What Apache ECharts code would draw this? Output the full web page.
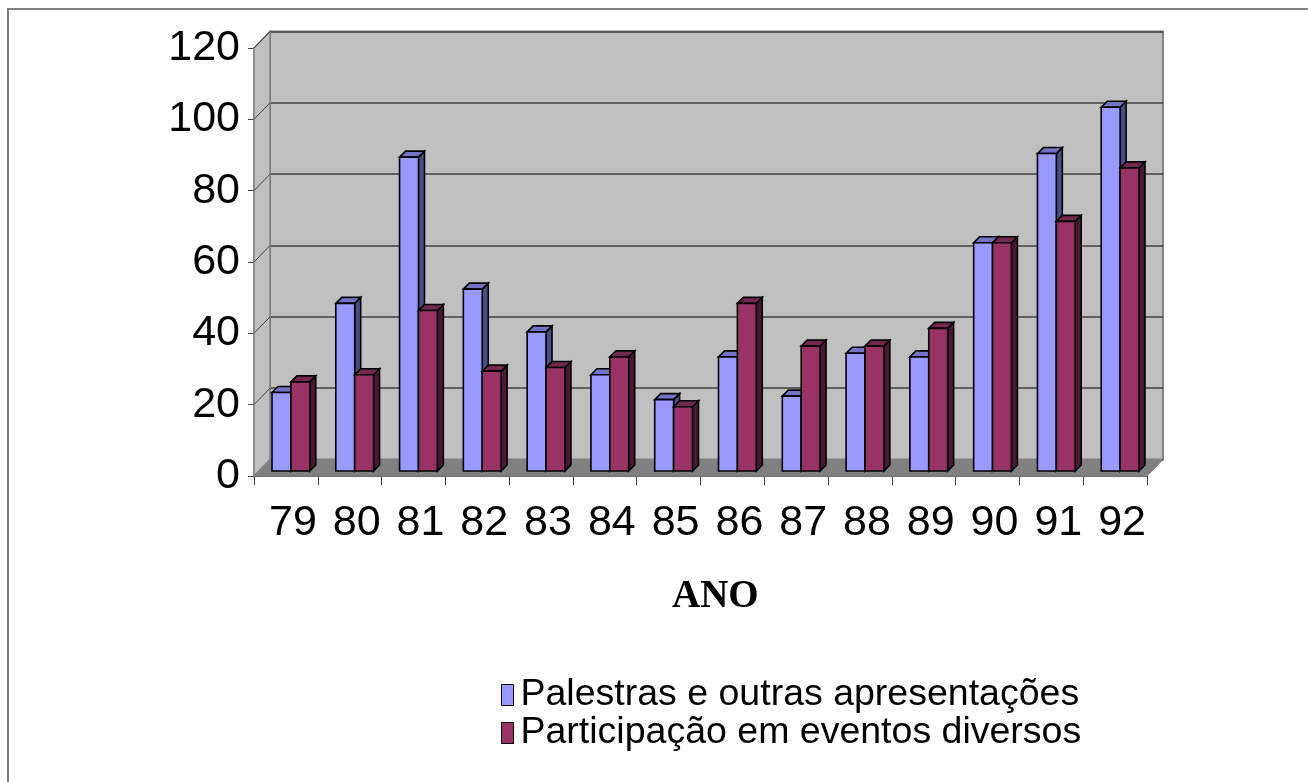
<!DOCTYPE html>
<html>
<head>
<meta charset="utf-8">
<script src="https://cdn.jsdelivr.net/npm/echarts@6/dist/echarts.min.js"></script>
<style>
  html, body { margin: 0; padding: 0; background: #fff; }
  #chart { width: 1308px; height: 782px; }
</style>
</head>
<body>
<div id="chart"></div>
<script>
// ---- data ----
const years = ['79', '80', '81', '82', '83', '84', '85', '86', '87', '88', '89', '90', '91', '92'];
const palestras = [22, 47, 88, 51, 39, 27, 20, 32, 21, 33, 32, 64, 89, 102];
const participacao = [25, 27, 45, 28, 29, 32, 18, 47, 35, 35, 40, 64, 70, 85];
const seriesNames = ['Palestras e outras apresentações', 'Participação em eventos diversos'];
const yMin = 0, yMax = 120, yStep = 20;
const xTitle = 'ANO';

// ---- layout / style constants ----
const FRONT = { left: 254, top: 48, width: 893, height: 428 };
const DEPTH = [16, -16.5];      // wall depth offset
const BAR_SHIFT = [5, -5];      // bar front plane offset from front plane
const BAR_DEPTH = [6, -6];      // bar depth
const BAR_FRAC = 0.296;
const COLORS = [
  { front: '#9999FF', top: '#7373C6', side: '#4D4D85' },
  { front: '#993366', top: '#75284F', side: '#4A1830' }
];
const FONT = "'Liberation Sans', Arial, sans-serif";

const chart = echarts.init(document.getElementById('chart'), null, { renderer: 'canvas' });

function tickValues() {
  const t = [];
  for (let v = yMin; v <= yMax; v += yStep) t.push(v);
  return t;
}

function wallsRender(params, api) {
  const cs = params.coordSys;
  const x = cs.x, y = cs.y, w = cs.width, h = cs.height;
  const dx = DEPTH[0], dy = DEPTH[1];
  const children = [];
  children.push({
    type: 'polygon',
    shape: { points: [[x, y + h], [x, y], [x + dx, y + dy], [x + dx, y + h + dy]] },
    style: { fill: '#C0C0C0', stroke: '#808080', lineWidth: 1.5 }
  });
  tickValues().forEach(function (t) {
    if (t === yMin) return;
    const yv = api.coord([0, t])[1];
    children.push({
      type: 'line',
      shape: { x1: x, y1: yv, x2: x + dx, y2: yv + dy },
      style: { stroke: '#404040', lineWidth: 1 }
    });
  });
  children.push({
    type: 'polygon',
    shape: { points: [[x, y + h], [x + dx, y + h + dy], [x + w + dx, y + h + dy], [x + w, y + h]] },
    style: { fill: '#808080', stroke: '#808080', lineWidth: 1 }
  });
  return { type: 'group', children: children };
}

function makeBarRender(si) {
  const c = COLORS[si];
  return function (params, api) {
    const cat = api.value(0), v = api.value(1);
    const base = api.coord([cat, 0]);
    const topP = api.coord([cat, v]);
    const bw = api.size([1, 0])[0] * BAR_FRAC;
    const x0 = base[0] + BAR_SHIFT[0] + (si === 0 ? -bw : 0);
    const yb = base[1] + BAR_SHIFT[1];
    const yt = topP[1] + BAR_SHIFT[1];
    const ddx = BAR_DEPTH[0], ddy = BAR_DEPTH[1];
    const st = { stroke: '#000', lineWidth: 1.6, lineJoin: 'miter' };
    return {
      type: 'group',
      children: [
        { type: 'polygon', shape: { points: [[x0 + bw, yt], [x0 + bw + ddx, yt + ddy], [x0 + bw + ddx, yb + ddy], [x0 + bw, yb]] },
          style: Object.assign({ fill: c.side }, st) },
        { type: 'polygon', shape: { points: [[x0, yt], [x0 + ddx, yt + ddy], [x0 + bw + ddx, yt + ddy], [x0 + bw, yt]] },
          style: Object.assign({ fill: c.top }, st) },
        { type: 'rect', shape: { x: x0, y: yt, width: bw, height: yb - yt },
          style: Object.assign({ fill: c.front }, st) }
      ]
    };
  };
}

const option = {
  animation: false,
  backgroundColor: '#fff',
  title: {
    text: xTitle,
    left: 672, top: 577, padding: 0,
    textStyle: { fontFamily: "'Liberation Serif', 'Times New Roman', serif", fontWeight: 'bold', fontSize: 39, color: '#000' }
  },
  legend: {
    data: seriesNames,
    orient: 'vertical',
    left: 501, top: 676, padding: 0,
    itemGap: 0, itemWidth: 12, itemHeight: 21,
    icon: 'rect',
    itemStyle: { borderColor: '#000', borderWidth: 1 },
    textStyle: { fontFamily: FONT, fontSize: 37.5, lineHeight: 35, color: '#000', padding: [0, 0, 0, 2] },
    selectedMode: false
  },
  graphic: [{
    type: 'rect', silent: true, z: -10,
    shape: { x: 8, y: 9, width: 1400, height: 900 },
    style: { fill: 'none', stroke: '#808080', lineWidth: 2 }
  }],
  grid: [
    Object.assign({ show: false, containLabel: false }, FRONT),
    { show: true, left: FRONT.left + DEPTH[0], top: FRONT.top + DEPTH[1], width: FRONT.width, height: FRONT.height,
      backgroundColor: '#C0C0C0', borderColor: '#808080', borderWidth: 2 }
  ],
  xAxis: [
    {
      type: 'category', gridIndex: 0, data: years, boundaryGap: true,
      axisLine: { show: true, lineStyle: { color: '#606060', width: 1 } },
      axisTick: { show: true, length: 9, lineStyle: { color: '#404040', width: 1 } },
      axisLabel: { fontFamily: FONT, fontSize: 43, color: '#000', margin: 26, interval: 0, padding: [0, 0, 0, 14] },
      splitLine: { show: false }
    },
    {
      type: 'category', gridIndex: 1, data: years, boundaryGap: true,
      axisLine: { show: false }, axisTick: { show: false }, axisLabel: { show: false }, splitLine: { show: false }
    }
  ],
  yAxis: [
    {
      type: 'value', gridIndex: 0, min: yMin, max: yMax, interval: yStep,
      axisLine: { show: true, lineStyle: { color: '#808080', width: 1.5 } },
      axisTick: { show: true, length: 6, lineStyle: { color: '#404040', width: 1 } },
      axisLabel: { fontFamily: FONT, fontSize: 43, color: '#000', margin: 14 },
      splitLine: { show: false }
    },
    {
      type: 'value', gridIndex: 1, min: yMin, max: yMax, interval: yStep,
      axisLine: { show: false }, axisTick: { show: false }, axisLabel: { show: false },
      splitLine: { show: true, lineStyle: { color: '#404040', width: 1.5 } }
    }
  ],
  series: [
    {
      type: 'custom', name: '_walls', xAxisIndex: 0, yAxisIndex: 0, z: 1, silent: true,
      data: [[years[0], yMin]], encode: { x: 0, y: 1 },
      renderItem: wallsRender
    },
    {
      type: 'custom', name: seriesNames[0], xAxisIndex: 0, yAxisIndex: 0, z: 3,
      itemStyle: { color: COLORS[0].front },
      data: years.map(function (y, i) { return [y, palestras[i]]; }),
      encode: { x: 0, y: 1 },
      renderItem: makeBarRender(0)
    },
    {
      type: 'custom', name: seriesNames[1], xAxisIndex: 0, yAxisIndex: 0, z: 3,
      itemStyle: { color: COLORS[1].front },
      data: years.map(function (y, i) { return [y, participacao[i]]; }),
      encode: { x: 0, y: 1 },
      renderItem: makeBarRender(1)
    }
  ]
};
chart.setOption(option);
</script>
</body>
</html>
